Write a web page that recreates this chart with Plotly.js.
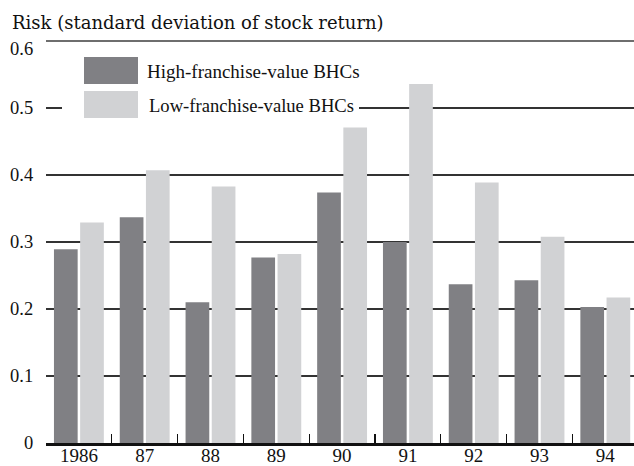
<!DOCTYPE html>
<html>
<head>
<meta charset="utf-8">
<script src="https://cdn.plot.ly/plotly-3.0.1.min.js"></script>
<style>
  html, body { margin: 0; padding: 0; background: #fff; }
  #chart { width: 634px; height: 466px; }
</style>
</head>
<body>
<div id="chart"></div>
<script>
const years = ['1986', '87', '88', '89', '90', '91', '92', '93', '94'];
const highFranchise = [0.289, 0.337, 0.210, 0.277, 0.374, 0.300, 0.237, 0.243, 0.203];
const lowFranchise  = [0.329, 0.407, 0.383, 0.282, 0.471, 0.536, 0.389, 0.308, 0.217];
const seriesNames = ['High-franchise-value BHCs', 'Low-franchise-value BHCs'];
const yTicks = [0, 0.1, 0.2, 0.3, 0.4, 0.5, 0.6];
const yTickText = ['0', '0.1', '0.2', '0.3', '0.4', '0.5', '0.6'];

const darkColor = '#808084';
const lightColor = '#d1d2d4';
const fontFamily = '"Liberation Serif", "DejaVu Serif", serif';
const titleFamily = '"DejaVu Serif", "Liberation Serif", serif';

const traces = [
  { type: 'bar', x: years, y: highFranchise, name: seriesNames[0],
    marker: { color: darkColor, line: { width: 0 } }, hoverinfo: 'skip' },
  { type: 'bar', x: years, y: lowFranchise, name: seriesNames[1],
    marker: { color: lightColor, line: { width: 0 } }, hoverinfo: 'skip' }
];

const W = 634, H = 466;
const mL = 46, mR = 0, mT = 39, mB = 23;
const plotW = W - mL - mR, plotH = H - mT - mB;
const px = v => (v - mL) / plotW;
const py = v => (H - mB - v) / plotH;

// y tick labels as annotations (top one sits lower, as in the reference)
const yLabelAnns = yTicks.map((v, i) => ({
  xref: 'paper', yref: 'y', x: 0, y: v, xanchor: 'right', yanchor: 'middle',
  xshift: -11, yshift: (i === yTicks.length - 1) ? -8 : 0,
  text: yTickText[i], showarrow: false,
  font: { family: fontFamily, size: 18.5, color: '#111' }
}));

const layout = {
  width: W, height: H,
  margin: { l: mL, r: mR, t: mT, b: mB, pad: 0 },
  paper_bgcolor: '#fff', plot_bgcolor: '#fff',
  font: { family: fontFamily, size: 18, color: '#111' },
  showlegend: false,
  barmode: 'group',
  bargap: 0.204,
  bargroupgap: 0.095,
  title: {
    text: 'Risk (standard deviation of stock return)',
    xref: 'container', yref: 'container',
    x: 12 / W, xanchor: 'left',
    y: 1 - 23 / H, yanchor: 'middle',
    font: { family: titleFamily, size: 18, color: '#111' }
  },
  xaxis: {
    type: 'category',
    range: [-0.5, -0.5 + plotW / 65.8],
    showgrid: false, zeroline: false,
    showline: true, linecolor: '#111', linewidth: 2.5,
    ticks: 'inside', tickson: 'boundaries', ticklen: 9, tickwidth: 1.3, tickcolor: '#111',
    ticklabelstandoff: -6,
    tickfont: { family: fontFamily, size: 19, color: '#111' },
    fixedrange: true
  },
  yaxis: {
    range: [0, 0.603],
    tickmode: 'array', tickvals: yTicks,
    showticklabels: false,
    showgrid: true, gridcolor: '#333333', gridwidth: 1.3,
    zeroline: false, showline: false, ticks: '',
    fixedrange: true
  },
  shapes: [
    { type: 'line', xref: 'paper', yref: 'y', layer: 'above',
      x0: 0, x1: 1, y0: yTicks[yTicks.length - 1], y1: yTicks[yTicks.length - 1],
      line: { color: '#6e6e6e', width: 2 } },
    { type: 'rect', xref: 'paper', yref: 'paper', layer: 'above',
      x0: px(62), x1: px(359), y0: py(113), y1: py(103),
      fillcolor: '#fff', line: { width: 0 } },
    { type: 'rect', xref: 'paper', yref: 'paper', layer: 'above',
      x0: px(84), x1: px(138), y0: py(84), y1: py(57),
      fillcolor: darkColor, line: { width: 0 } },
    { type: 'rect', xref: 'paper', yref: 'paper', layer: 'above',
      x0: px(84), x1: px(138), y0: py(118), y1: py(91),
      fillcolor: lightColor, line: { width: 0 } }
  ],
  annotations: [
    { xref: 'paper', yref: 'paper', x: px(145), y: py(71.5), xanchor: 'left', yanchor: 'middle',
      text: seriesNames[0], showarrow: false,
      font: { family: fontFamily, size: 19, color: '#111' } },
    { xref: 'paper', yref: 'paper', x: px(147), y: py(105), xanchor: 'left', yanchor: 'middle',
      text: seriesNames[1], showarrow: false,
      font: { family: fontFamily, size: 18.6, color: '#111' } }
  ].concat(yLabelAnns)
};

Plotly.newPlot('chart', traces, layout, { displayModeBar: false, staticPlot: true });
</script>
</body>
</html>
